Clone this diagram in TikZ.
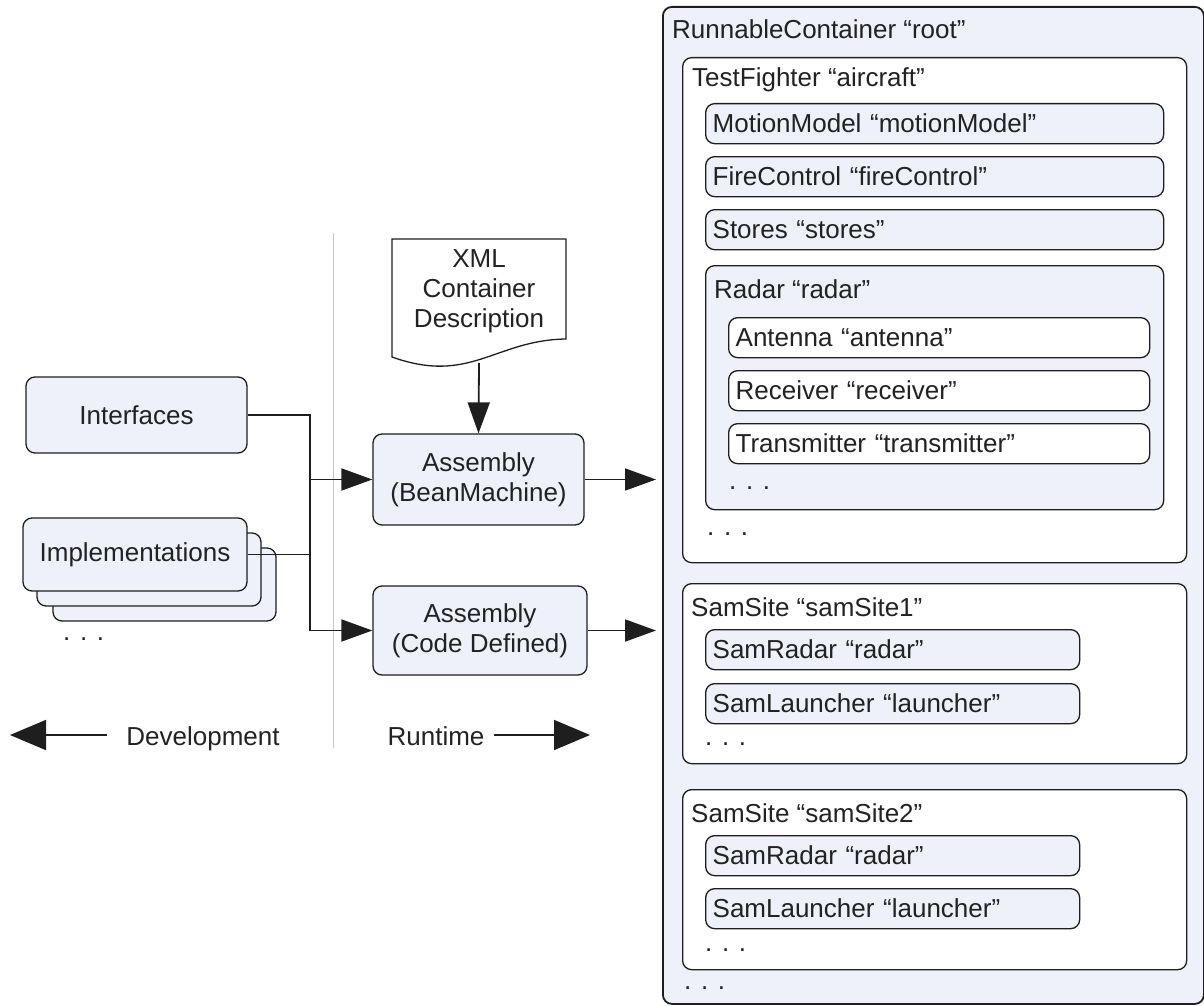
\documentclass[tikz,border=0pt]{standalone}
\usepackage{fontspec}
\setmainfont{Liberation Sans}
\usetikzlibrary{
    arrows.meta,
    calc,
    positioning
}
\definecolor{paleblue}{HTML}{EEF1FA}
\definecolor{edgec}{HTML}{1E1E1E}
\definecolor{inkc}{HTML}{222222}
\tikzset{
    box/.style={draw=edgec, line width=1.3pt, rounded corners=9pt, fill=paleblue, inner sep=0pt},
    frame/.style={box, anchor=north west},
    item/.style={frame, align=left, inner xsep=7pt, inner ysep=0pt, minimum height=40pt},
    title/.style={anchor=base west, inner sep=0pt},
    wire/.style={line width=1.8pt, edgec},
    flow/.style={wire, -{Triangle[length=31pt, width=22pt]}},
    bigflow/.style={wire, -{Triangle[length=36pt, width=30pt]}}
}

\begin{document}
\begin{tikzpicture}[x=1pt, y=-1pt, font=\fontsize{26}{30}\selectfont, text=inkc]
\useasboundingbox (0,0) rectangle (1204,1006);

% development side
\node[box, minimum width=221, minimum height=76] (iface) at (136.5,415) {Interfaces};
\node[box, minimum width=223, minimum height=73] (impl3) at (164.5,584.5) {};
\node[box, minimum width=224, minimum height=73] (impl2) at (149,569.5) {};
\node[box, minimum width=224, minimum height=73] (impl) at (135,554.5) {Implementations};
\node[title] (impldots) at (63,640) {. . .};

\draw[gray!45, line width=1pt] (333,233) -- (333,748);

% xml description
\draw[edgec, line width=1.3pt, fill=white]
    (392,239) -- (566,239) -- (566,339)
    .. controls (495,340) and (470,385) .. (392,357) -- cycle;
\node[align=center, inner sep=0pt] (xml) at (479,291) {XML\\Container\\Description};
\coordinate (xmlfoot) at (479,363);

\node[box, align=center, minimum width=211, minimum height=91] (bean) at (478.5,479.5) {Assembly\\(BeanMachine)};
\node[box, align=center, minimum width=214, minimum height=89] (code) at (480,630.5) {Assembly\\(Code Defined)};

\coordinate (jtop) at (310,415);
\coordinate (jbot) at (310,630.5);
\draw[wire] (iface.east) -- (jtop) -- (jbot);
\draw[wire] (impl.east) -- (impl.east -| jtop);
\draw[flow] (bean.west -| jtop) -- (bean.west);
\draw[flow] (jbot) -- (code.west);
\draw[flow] (xmlfoot) -- (bean.north);

% runtime containers
\node[frame, line width=1.8pt, minimum width=541, minimum height=997] (root) at (662,6) {};
\node[title] (roottitle) at (672,39) {RunnableContainer “root”};

\node[frame, fill=white, minimum width=504, minimum height=505] (fighter) at (682,57) {};
\node[title] (fightertitle) at (692,87) {TestFighter “aircraft”};
\node[item, text width=444] (motion) at (705,103) {MotionModel “motionModel”};
\node[item, text width=444] (fire) at (705,156) {FireControl “fireControl”};
\node[item, text width=444] (stores) at (705,209) {Stores “stores”};
\node[frame, minimum width=458, minimum height=244] (radar) at (705,265) {};
\node[title] (radartitle) at (714,298) {Radar “radar”};
\node[item, fill=white, text width=407] (antenna) at (728,317) {Antenna “antenna”};
\node[item, fill=white, text width=407] (receiver) at (728,370) {Receiver “receiver”};
\node[item, fill=white, text width=407] (transmitter) at (728,423) {Transmitter “transmitter”};
\node[title] (radardots) at (729,489) {. . .};
\node[title] (fighterdots) at (707,535) {. . .};

\node[frame, fill=white, minimum width=504, minimum height=180] (site1) at (682,583) {};
\node[title] (site1title) at (691,616) {SamSite “samSite1”};
\node[item, text width=360] (samradar1) at (705,629) {SamRadar “radar”};
\node[item, text width=360] (launcher1) at (705,683) {SamLauncher “launcher”};
\node[title] (site1dots) at (705,745) {. . .};

\node[frame, fill=white, minimum width=504, minimum height=180] (site2) at (682,789) {};
\node[title] (site2title) at (691,822) {SamSite “samSite2”};
\node[item, text width=360] (samradar2) at (705,835) {SamRadar “radar”};
\node[item, text width=360] (launcher2) at (705,888) {SamLauncher “launcher”};
\node[title] (site2dots) at (705,951) {. . .};
\node[title] (rootdots) at (684,989) {. . .};

\draw[flow, shorten >=6pt] (bean.east) -- (bean.east -| root.west);
\draw[flow, shorten >=6pt] (code.east) -- (code.east -| root.west);

% development / runtime
\node[title, anchor=base] (dev) at (203,745) {Development};
\node[title, anchor=base] (run) at (436,745) {Runtime};
\coordinate (devtip) at (10,735);
\coordinate (runtip) at (590,735);
\draw[bigflow] ($(dev.west |- devtip)+(-19,0)$) -- (devtip);
\draw[bigflow] ($(run.east |- runtip)+(9,0)$) -- (runtip);
\end{tikzpicture}
\end{document}
